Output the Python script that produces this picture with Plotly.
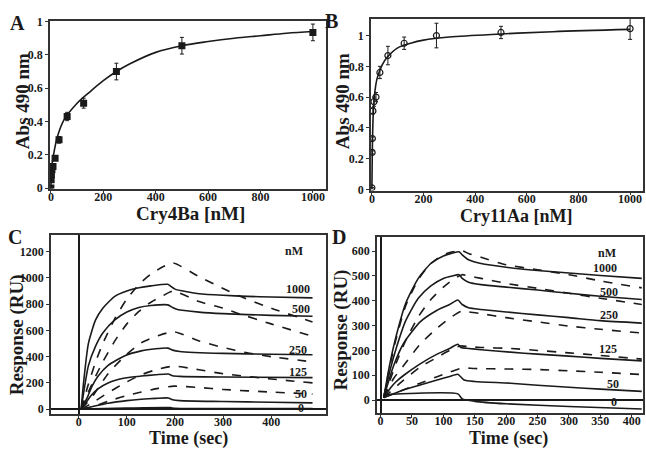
import plotly.graph_objects as go

# ---------------- Panel A (Cry4Ba ELISA) ----------------
a_x = [0, 1, 2, 4, 8, 16, 31, 62, 125, 250, 500, 1000]
a_y = [0, 0.05, 0.08, 0.11, 0.13, 0.18, 0.29, 0.43, 0.51, 0.70, 0.855, 0.935]
a_err = [0, 0.01, 0.01, 0.01, 0.01, 0.015, 0.02, 0.025, 0.03, 0.05, 0.05, 0.05]
a_fit_x = [0, 2, 5, 10, 25, 50, 100, 150, 200, 250, 300, 400, 500, 600, 700, 800, 900, 1000]
a_fit_y = [0, 0.08, 0.15, 0.20, 0.31, 0.41, 0.51, 0.58, 0.645, 0.70, 0.745, 0.815, 0.855, 0.88, 0.90, 0.915, 0.93, 0.94]

# ---------------- Panel B (Cry11Aa ELISA) ----------------
b_x = [0, 1, 2, 4, 8, 16, 31, 62, 125, 250, 500, 1000]
b_y = [0.01, 0.24, 0.33, 0.51, 0.57, 0.60, 0.76, 0.87, 0.95, 1.0, 1.02, 1.045]
b_err = [0, 0.01, 0.01, 0.02, 0.03, 0.03, 0.04, 0.06, 0.04, 0.08, 0.04, 0.07]
b_fit_x = [0, 1, 2, 5, 10, 20, 40, 60, 100, 150, 200, 300, 500, 700, 1000]
b_fit_y = [0, 0.15, 0.28, 0.48, 0.61, 0.72, 0.81, 0.86, 0.92, 0.95, 0.97, 0.99, 1.01, 1.025, 1.04]

# ---------------- Panel C (Cry4Ba SPR) ----------------
c_t_1000 = [5, 10, 20, 35, 50, 75, 100, 125, 150, 185, 190, 200, 225, 250, 300, 350, 400, 486]
c_s_1000 = [0, 200, 500, 680, 770, 860, 900, 925, 940, 952, 940, 915, 895, 880, 868, 860, 855, 848]
c_t_500 = [5, 10, 20, 35, 50, 75, 100, 125, 150, 185, 195, 205, 250, 300, 400, 486]
c_s_500 = [0, 120, 330, 480, 580, 680, 740, 775, 790, 795, 775, 760, 740, 728, 715, 708]
c_t_250 = [5, 18, 27, 40, 61, 96, 130, 160, 185, 195, 210, 300, 400, 486]
c_s_250 = [0, 90, 170, 250, 333, 407, 444, 460, 465, 450, 440, 425, 418, 415]
c_t_125 = [5, 15, 27, 40, 61, 96, 130, 160, 186, 195, 210, 300, 486]
c_s_125 = [0, 50, 110, 155, 200, 237, 252, 262, 268, 255, 250, 245, 240]
c_t_50 = [5, 27, 61, 100, 130, 160, 186, 195, 210, 300, 400, 486]
c_s_50 = [0, 18, 45, 65, 75, 82, 85, 72, 65, 58, 52, 48]
c_t_0 = [5, 100, 190, 200, 300, 400, 486]
c_s_0 = [0, 8, 12, 6, 5, 4, 4]

c_tf_1000 = [5, 20, 35, 50, 75, 100, 125, 150, 175, 196, 250, 300, 334, 400, 486]
c_f_1000 = [0, 190, 360, 500, 690, 840, 950, 1030, 1085, 1115, 1010, 920, 862, 770, 665]
c_tf_500 = [5, 20, 35, 50, 75, 100, 125, 150, 175, 196, 250, 300, 327, 400, 486]
c_f_500 = [0, 130, 250, 360, 520, 650, 745, 815, 865, 900, 820, 770, 735, 650, 555]
c_tf_250 = [5, 27, 61, 96, 130, 165, 198, 250, 300, 350, 400, 486]
c_f_250 = [0, 90, 270, 405, 505, 560, 590, 520, 470, 430, 400, 360]
c_tf_125 = [5, 27, 61, 96, 130, 165, 198, 250, 300, 400, 486]
c_f_125 = [0, 45, 125, 200, 262, 305, 328, 300, 270, 230, 200]
c_tf_50 = [5, 27, 61, 96, 130, 165, 198, 250, 300, 400, 486]
c_f_50 = [0, 15, 60, 100, 130, 158, 175, 165, 150, 130, 115]

c_labels = ["nM", "1000", "500", "250", "125", "50", "0"]
c_label_t = [448, 455, 462, 455, 455, 462, 462]
c_label_ru = [1207, 913, 760, 450, 285, 112, 8]

# ---------------- Panel D (Cry11Aa SPR) ----------------
d_t_1000 = [5, 15, 25, 40, 60, 80, 100, 115, 125, 130, 140, 160, 200, 250, 300, 350, 416]
d_s_1000 = [10, 150, 260, 390, 490, 550, 580, 592, 597, 585, 565, 550, 535, 522, 512, 502, 490]
d_t_500 = [5, 15, 25, 40, 60, 80, 100, 115, 125, 130, 140, 160, 200, 250, 300, 350, 416]
d_s_500 = [10, 120, 210, 320, 410, 460, 490, 500, 505, 490, 475, 465, 455, 443, 430, 418, 405]
d_t_250 = [5, 21, 37, 63, 90, 110, 123, 130, 140, 160, 200, 250, 300, 350, 416]
d_s_250 = [10, 140, 230, 315, 362, 385, 403, 385, 372, 365, 355, 343, 332, 320, 310]
d_t_125 = [5, 16, 25, 37, 63, 90, 110, 123, 128, 140, 160, 207, 250, 300, 350, 416]
d_s_125 = [10, 50, 75, 100, 146, 185, 208, 225, 212, 208, 203, 193, 185, 177, 168, 158]
d_t_50 = [5, 37, 63, 90, 110, 123, 133, 150, 207, 250, 300, 350, 416]
d_s_50 = [10, 42, 61, 81, 95, 104, 81, 75, 68, 60, 52, 44, 35]
d_t_0 = [5, 123, 130, 150, 200, 300, 416]
d_s_0 = [22, 25, 5, -5, -15, -26, -36]

d_tf_1000 = [5, 15, 25, 40, 60, 80, 100, 115, 130, 140, 160, 200, 250, 300, 350, 416]
d_f_1000 = [10, 140, 250, 380, 485, 550, 585, 597, 602, 590, 575, 545, 525, 505, 480, 452]
d_tf_500 = [5, 15, 25, 40, 60, 80, 100, 115, 130, 140, 160, 200, 250, 300, 350, 416]
d_f_500 = [10, 80, 150, 240, 335, 405, 455, 485, 505, 500, 490, 470, 450, 430, 410, 385]
d_tf_250 = [5, 21, 37, 63, 90, 110, 128, 140, 160, 200, 250, 300, 350, 416]
d_f_250 = [10, 88, 140, 225, 290, 330, 357, 355, 348, 332, 315, 298, 285, 270]
d_tf_125 = [5, 37, 63, 90, 110, 127, 140, 160, 207, 250, 300, 350, 416]
d_f_125 = [10, 81, 133, 172, 200, 218, 215, 212, 208, 200, 190, 180, 165]
d_tf_50 = [5, 37, 63, 90, 110, 130, 150, 207, 250, 300, 350, 416]
d_f_50 = [10, 42, 68, 94, 112, 129, 127, 125, 123, 118, 112, 103]

d_labels = ["nM", "1000", "500", "250", "125", "50", "0"]
d_label_t = [361, 358, 364, 364, 362, 370, 372]
d_label_ru = [593, 531, 437, 343, 206, 65, -9]

FONT = "Liberation Serif"
INK = "#1a1a1a"
W, H = 646, 454

fig = go.Figure()

# Panel A
fig.add_trace(go.Scatter(x=a_fit_x, y=a_fit_y, mode="lines", line=dict(color=INK, width=1.6, shape="spline"),
                         xaxis="x", yaxis="y", showlegend=False))
fig.add_trace(go.Scatter(x=a_x, y=a_y, mode="markers",
                         marker=dict(symbol="square", size=7, color=INK),
                         error_y=dict(type="data", array=a_err, color=INK, thickness=1, width=2),
                         xaxis="x", yaxis="y", showlegend=False))
# Panel B
fig.add_trace(go.Scatter(x=b_fit_x, y=b_fit_y, mode="lines", line=dict(color=INK, width=1.6, shape="spline"),
                         xaxis="x2", yaxis="y2", showlegend=False))
fig.add_trace(go.Scatter(x=b_x, y=b_y, mode="markers",
                         marker=dict(symbol="circle-open", size=6, color=INK, line=dict(width=1.2, color=INK)),
                         error_y=dict(type="data", array=b_err, color=INK, thickness=1, width=2),
                         xaxis="x2", yaxis="y2", showlegend=False))

def add_lines(ts, vs, xa, ya, dash):
    fig.add_trace(go.Scatter(x=ts, y=vs, mode="lines",
                             line=dict(color=INK, width=1.6, dash=dash, shape="spline", smoothing=0.6),
                             xaxis=xa, yaxis=ya, showlegend=False))

# Panel C
for ts, vs in [(c_t_1000, c_s_1000), (c_t_500, c_s_500), (c_t_250, c_s_250),
               (c_t_125, c_s_125), (c_t_50, c_s_50), (c_t_0, c_s_0)]:
    add_lines(ts, vs, "x3", "y3", "solid")
for ts, vs in [(c_tf_1000, c_f_1000), (c_tf_500, c_f_500), (c_tf_250, c_f_250),
               (c_tf_125, c_f_125), (c_tf_50, c_f_50)]:
    add_lines(ts, vs, "x3", "y3", "dash")
# Panel D
for ts, vs in [(d_t_1000, d_s_1000), (d_t_500, d_s_500), (d_t_250, d_s_250),
               (d_t_125, d_s_125), (d_t_50, d_s_50), (d_t_0, d_s_0)]:
    add_lines(ts, vs, "x4", "y4", "solid")
for ts, vs in [(d_tf_1000, d_f_1000), (d_tf_500, d_f_500), (d_tf_250, d_f_250),
               (d_tf_125, d_f_125), (d_tf_50, d_f_50)]:
    add_lines(ts, vs, "x4", "y4", "dash")

tickfont = dict(family=FONT, size=12, color=INK, weight="bold")

def ax(domain, rng, tickvals, anchor, zero=False, standoff=0):
    return dict(domain=domain, range=rng, tickvals=tickvals,
                ticktext=["<b>%s</b>" % v for v in tickvals],
                anchor=anchor, showline=True, mirror=True, linecolor="#333", linewidth=1.5,
                ticks="outside", ticklen=3, tickcolor="#333", tickwidth=1, tickfont=tickfont,
                ticklabelstandoff=standoff,
                showgrid=False, zeroline=zero, zerolinecolor=INK, zerolinewidth=1.8)

def px(x):
    return x / W

def py(y):
    return 1 - y / H

fig.update_layout(
    width=W, height=H, margin=dict(l=0, r=0, t=0, b=0),
    paper_bgcolor="white", plot_bgcolor="white",
    xaxis=ax([px(48), px(325)], [-4, 1050], [0, 200, 400, 600, 800, 1000], "y", standoff=-7),
    yaxis=ax([py(188), py(15)], [-0.003, 1.006], [0, 0.2, 0.4, 0.6, 0.8, 1], "x"),
    xaxis2=ax([px(370), px(643)], [-4, 1050], [0, 200, 400, 600, 800, 1000], "y2", standoff=-7),
    yaxis2=ax([py(190), py(13)], [-0.008, 1.11], [0, 0.2, 0.4, 0.6, 0.8, 1], "x2"),
    xaxis3=ax([px(49), px(325)], [-58, 514], [0, 100, 200, 300, 400], "y3", zero=True, standoff=-7),
    yaxis3=ax([py(420), py(236)], [-37, 1326], [0, 200, 400, 600, 800, 1000, 1200], "x3", zero=True),
    xaxis4=ax([px(376), px(643)], [-6, 418], [0, 50, 100, 150, 200, 250, 300, 350, 400], "y4", zero=True, standoff=-7),
    yaxis4=ax([py(419), py(238)], [-52, 656], [0, 100, 200, 300, 400, 500, 600], "x4", zero=True),
)

ann = []
titlefont = dict(family=FONT, size=19, color=INK, weight="bold")
xtitlefont = dict(family=FONT, size=18, color=INK, weight="bold")
letterfont = dict(family=FONT, size=20, color=INK, weight="bold")
for txt, x, y in [("A", 16, 17), ("B", 331, 15), ("C", 13, 238), ("D", 338, 238)]:
    ann.append(dict(text=txt, x=px(x), y=py(y), xref="paper", yref="paper", showarrow=False,
                    font=letterfont, xanchor="center", yanchor="middle"))
for txt, x, y, ang, f in [("Abs 490 nm", 20, 98, -90, titlefont), ("Abs 490 nm", 341, 98, -90, titlefont),
                          ("Cry4Ba [nM]", 189, 214, 0, titlefont), ("Cry11Aa [nM]", 516, 216, 0, xtitlefont),
                          ("Response (RU)", 15, 338, -90, titlefont), ("Response (RU)", 341, 333, -90, titlefont),
                          ("Time (sec)", 187, 445, 0, xtitlefont), ("Time (sec)", 508, 445, 0, xtitlefont)]:
    ann.append(dict(text=txt, x=px(x), y=py(y), xref="paper", yref="paper", showarrow=False,
                    font=f, textangle=ang, xanchor="center", yanchor="middle", borderpad=0))
lab_font = dict(family=FONT, size=12, color=INK, weight="bold")
for txt, t, r in zip(c_labels, c_label_t, c_label_ru):
    ann.append(dict(text=txt, x=t, y=r, xref="x3", yref="y3", showarrow=False, font=lab_font,
                    xanchor="center", yanchor="middle", borderpad=0))
for txt, t, r in zip(d_labels, d_label_t, d_label_ru):
    ann.append(dict(text=txt, x=t, y=r, xref="x4", yref="y4", showarrow=False, font=lab_font,
                    xanchor="center", yanchor="middle", borderpad=0))
fig.update_layout(annotations=ann)

fig.write_html("out.html", config={"displayModeBar": False},
               post_script="document.body.style.margin='0';document.body.style.overflow='hidden';")
